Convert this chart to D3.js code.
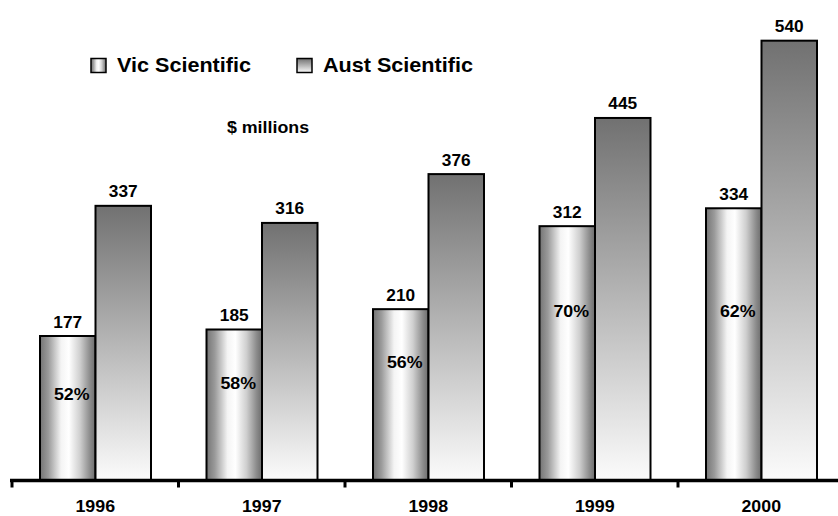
<!DOCTYPE html>
<html>
<head>
<meta charset="utf-8">
<script src="https://cdn.jsdelivr.net/npm/d3@7"></script>
<style>
  html, body { margin: 0; padding: 0; background: #fff; }
  svg { display: block; }
  text { font-family: "Liberation Sans", Arial, sans-serif; font-weight: bold; fill: #000; }
</style>
</head>
<body>
<svg id="chart" width="838" height="516"></svg>
<script>
// Scientific spending, $ millions
const years = ["1996", "1997", "1998", "1999", "2000"];
const seriesNames = ["Vic Scientific", "Aust Scientific"];
const vicValues = [177, 185, 210, 312, 334];
const austValues = [337, 316, 376, 445, 540];
const vicShareLabels = ["52%", "58%", "56%", "70%", "62%"];
const unitsLabel = "$ millions";

const W = 838, H = 516;
const svg = d3.select("#chart");
const stretch = 1.08; // wide lettering

// Vertical level (in $ millions) where each share label sits inside its bar
const shareLabelLevel = [98, 112, 138, 200, 200];

const x = d3.scaleBand().domain(years).range([12, 844.5]).padding(0);
const xs = d3.scaleBand().domain(seriesNames).range([28, 139]).padding(0);
const y = d3.scaleLinear().domain([0, 590]).range([480, 0]);

// Gradients
const defs = svg.append("defs");
const gVic = defs.append("linearGradient").attr("id", "gradVic")
  .attr("x1", 0).attr("y1", 0).attr("x2", 1).attr("y2", 0);
[[0, "#747474"], [0.15, "#9a9a9a"], [0.38, "#f4f4f4"], [0.52, "#ffffff"],
 [0.72, "#cfcfcf"], [0.9, "#8c8c8c"], [1, "#6c6c6c"]]
  .forEach(([o, c]) => gVic.append("stop").attr("offset", o).attr("stop-color", c));
const gAust = defs.append("linearGradient").attr("id", "gradAust")
  .attr("x1", 0).attr("y1", 0).attr("x2", 0).attr("y2", 1);
[[0, "#717171"], [1, "#fbfbfb"]]
  .forEach(([o, c]) => gAust.append("stop").attr("offset", o).attr("stop-color", c));
const fills = { "Vic Scientific": "url(#gradVic)", "Aust Scientific": "url(#gradAust)" };

function label(parent, px, py, str, size, anchor) {
  const g = parent.append("g").attr("transform", `translate(${px},${py}) scale(${stretch},1)`);
  g.append("text").attr("x", 0).attr("y", 0)
    .attr("text-anchor", anchor || "middle")
    .style("font-size", size + "px")
    .text(str);
  return g;
}

const rows = years.map((yr, i) => ({
  year: yr,
  vic: vicValues[i],
  aust: austValues[i],
  share: vicShareLabels[i],
  shareLevel: shareLabelLevel[i]
}));

// Bars
const groups = svg.append("g").selectAll("g.year").data(rows).join("g")
  .attr("class", "year")
  .attr("transform", d => `translate(${x(d.year)},0)`);

groups.each(function (d) {
  const g = d3.select(this);
  const pairs = [["Vic Scientific", d.vic], ["Aust Scientific", d.aust]];
  pairs.forEach(([name, v]) => {
    g.append("rect")
      .attr("x", xs(name))
      .attr("y", y(v))
      .attr("width", xs.bandwidth())
      .attr("height", y(0) - y(v))
      .attr("fill", fills[name])
      .attr("stroke", "#000")
      .attr("stroke-width", 2);
    label(g, xs(name) + xs.bandwidth() / 2, y(v) - 8.5, String(v), 16);
  });
  label(g, xs("Vic Scientific") + xs.bandwidth() / 2 + 4, y(d.shareLevel), d.share, 16.5);
});

// Category axis
const axisG = svg.append("g").attr("transform", `translate(0,${y(0) + 0.5})`);
const axis = d3.axisBottom(x).tickSize(0).tickPadding(0);
axisG.call(axis);
axisG.select(".domain").remove();
axisG.selectAll(".tick text").remove();
axisG.append("line").attr("x1", 10).attr("x2", W).attr("y1", 0).attr("y2", 0)
  .attr("stroke", "#000").attr("stroke-width", 3.5);
const boundaries = years.map(yr => x(yr));
axisG.selectAll("line.sep").data(boundaries).join("line")
  .attr("class", "sep")
  .attr("x1", d => d).attr("x2", d => d)
  .attr("y1", 0).attr("y2", 7)
  .attr("stroke", "#000").attr("stroke-width", 3);
years.forEach(yr => label(svg, x(yr) + x.bandwidth() / 2, 512, yr, 16.5));

// Legend
const legend = svg.append("g");
const legendX = [91, 297];
seriesNames.forEach((name, i) => {
  legend.append("rect")
    .attr("x", legendX[i]).attr("y", 58.5)
    .attr("width", 15).attr("height", 14)
    .attr("fill", fills[name])
    .attr("stroke", "#000").attr("stroke-width", 1.5);
  label(legend, legendX[i] + 26, 72.3, name, 20, "start");
});

// Units
label(svg, 268, 132.5, unitsLabel, 16.5);
</script>
</body>
</html>
